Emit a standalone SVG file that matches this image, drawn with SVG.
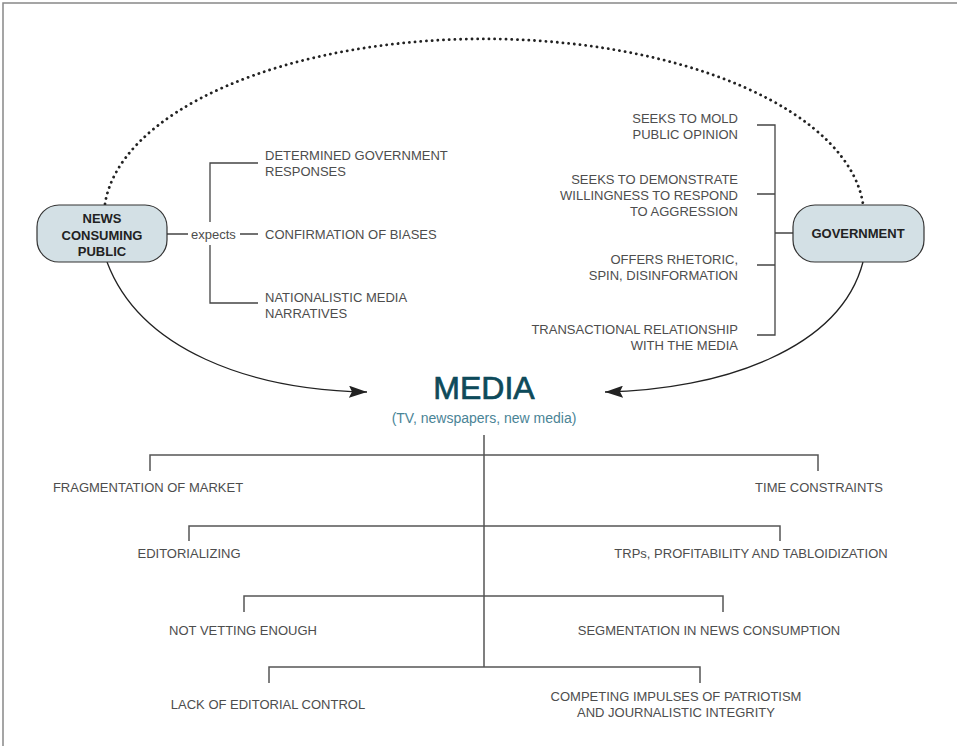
<svg xmlns="http://www.w3.org/2000/svg" width="957" height="746" viewBox="0 0 957 746">
<defs>
<style>
.t{font-family:"Liberation Sans",Arial,sans-serif;font-size:13px;fill:#4d4d4d}
.n{font-family:"Liberation Sans",Arial,sans-serif;font-size:13px;font-weight:bold;fill:#222;text-anchor:middle}
.box{fill:#d3e0e5;stroke:#333;stroke-width:1.2}
.ln{fill:none;stroke:#444;stroke-width:1.3}
.tree{fill:none;stroke:#555;stroke-width:1.5}
.r{text-anchor:end}
.m{text-anchor:middle}
</style>
<marker id="ah" viewBox="0 0 18 12" refX="18" refY="6" markerWidth="18" markerHeight="12" markerUnits="userSpaceOnUse" orient="auto">
<path d="M0,0 L18,6 L0,12 L3,6 Z" fill="#222"/>
</marker>
</defs>
<rect width="957" height="746" fill="#fff"/>
<path d="M3,746 V3 H957" fill="none" stroke="#888" stroke-width="1.5"/>

<g id="connectors">
<path d="M105,204 A380,178 0 0 1 863,204" fill="none" stroke="#222" stroke-width="2.8" stroke-linecap="round" stroke-dasharray="0.1 5.6"/>
<path d="M107,262 C140,350 250,390 367,392" fill="none" stroke="#222" stroke-width="1.3" marker-end="url(#ah)"/>
<path d="M863,262 C840,350 720,390 605,392" fill="none" stroke="#222" stroke-width="1.3" marker-end="url(#ah)"/>
<!-- left bracket -->
<path class="ln" d="M167,234 H188 M240,234 H258 M258,163 H210 V222 M210,245 V303 H258"/>
<!-- right bracket -->
<path class="ln" d="M757,125 H775 V335 H757 M757,194 H775 M757,265 H775 M775,233 H793"/>
<!-- media tree -->
<path class="tree" d="M484,435 V667"/>
<path class="tree" d="M150,471 V455 H818 V471"/>
<path class="tree" d="M189,541 V526 H780 V541"/>
<path class="tree" d="M244,612 V596 H723 V612"/>
<path class="tree" d="M269,683 V667 H700 V683"/>
</g>

<g id="node-public">
<rect class="box" x="37" y="205" width="130" height="57" rx="22"/>
<text class="n" x="102" y="223">NEWS</text>
<text class="n" x="102" y="240">CONSUMING</text>
<text class="n" x="102" y="256">PUBLIC</text>
</g>

<g id="node-government">
<rect class="box" x="793" y="205" width="131" height="57" rx="22"/>
<text class="n" x="858" y="238">GOVERNMENT</text>
</g>

<g id="node-media">
<text x="484" y="399" text-anchor="middle" font-family="'Liberation Sans',Arial,sans-serif" font-size="32" fill="#0d4a5a" stroke="#0d4a5a" stroke-width="0.7">MEDIA</text>
<text x="484" y="423" text-anchor="middle" font-family="'Liberation Sans',Arial,sans-serif" font-size="14" fill="#4a8496">(TV, newspapers, new media)</text>
</g>

<g id="public-expects">
<text class="t" x="191" y="239">expects</text>
<text class="t" x="265" y="160">DETERMINED GOVERNMENT</text>
<text class="t" x="265" y="176">RESPONSES</text>
<text class="t" x="265" y="239">CONFIRMATION OF BIASES</text>
<text class="t" x="265" y="302">NATIONALISTIC MEDIA</text>
<text class="t" x="265" y="318">NARRATIVES</text>
</g>

<g id="government-items">
<text class="t r" x="738" y="123">SEEKS TO MOLD</text>
<text class="t r" x="738" y="139">PUBLIC OPINION</text>
<text class="t r" x="738" y="184">SEEKS TO DEMONSTRATE</text>
<text class="t r" x="738" y="200">WILLINGNESS TO RESPOND</text>
<text class="t r" x="738" y="216">TO AGGRESSION</text>
<text class="t r" x="738" y="264">OFFERS RHETORIC,</text>
<text class="t r" x="738" y="280">SPIN, DISINFORMATION</text>
<text class="t r" x="738" y="334">TRANSACTIONAL RELATIONSHIP</text>
<text class="t r" x="738" y="350">WITH THE MEDIA</text>
</g>

<g id="media-items">
<text class="t m" x="148" y="492">FRAGMENTATION OF MARKET</text>
<text class="t m" x="819" y="492">TIME CONSTRAINTS</text>
<text class="t m" x="189" y="558">EDITORIALIZING</text>
<text class="t m" x="751" y="558">TRPs, PROFITABILITY AND TABLOIDIZATION</text>
<text class="t m" x="243" y="635">NOT VETTING ENOUGH</text>
<text class="t m" x="709" y="635">SEGMENTATION IN NEWS CONSUMPTION</text>
<text class="t m" x="268" y="709">LACK OF EDITORIAL CONTROL</text>
<text class="t m" x="676" y="701">COMPETING IMPULSES OF PATRIOTISM</text>
<text class="t m" x="676" y="717">AND JOURNALISTIC INTEGRITY</text>
</g>
</svg>
